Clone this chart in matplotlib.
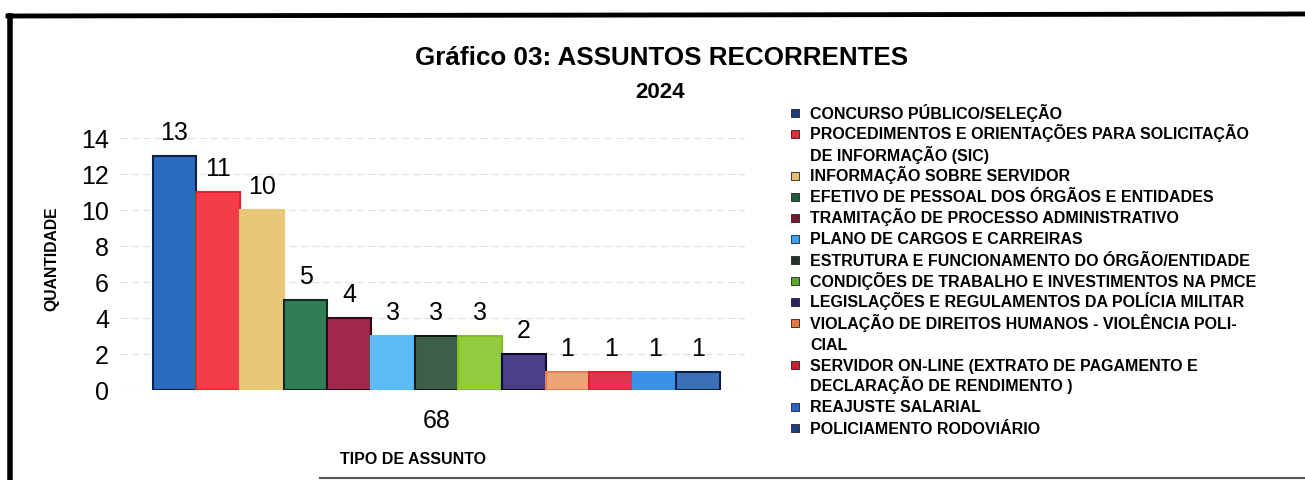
import matplotlib.pyplot as plt
from matplotlib.lines import Line2D
from matplotlib.patches import Rectangle

plt.rcParams['font.family'] = ['Liberation Sans', 'DejaVu Sans']

# Data
assuntos = [
    "CONCURSO PÚBLICO/SELEÇÃO",
    "PROCEDIMENTOS E ORIENTAÇÕES PARA SOLICITAÇÃO\nDE INFORMAÇÃO (SIC)",
    "INFORMAÇÃO SOBRE SERVIDOR",
    "EFETIVO DE PESSOAL DOS ÓRGÃOS E ENTIDADES",
    "TRAMITAÇÃO DE PROCESSO ADMINISTRATIVO",
    "PLANO DE CARGOS E CARREIRAS",
    "ESTRUTURA E FUNCIONAMENTO DO ÓRGÃO/ENTIDADE",
    "CONDIÇÕES DE TRABALHO E INVESTIMENTOS NA PMCE",
    "LEGISLAÇÕES E REGULAMENTOS DA POLÍCIA MILITAR",
    "VIOLAÇÃO DE DIREITOS HUMANOS - VIOLÊNCIA POLI-\nCIAL",
    "SERVIDOR ON-LINE (EXTRATO DE PAGAMENTO E\nDECLARAÇÃO DE RENDIMENTO )",
    "REAJUSTE SALARIAL",
    "POLICIAMENTO RODOVIÁRIO",
]
quantidade = [13, 11, 10, 5, 4, 3, 3, 3, 2, 1, 1, 1, 1]
categoria = "68"
y_ticks = [0, 2, 4, 6, 8, 10, 12, 14]

cores = ["#2c6cc0", "#f43d48", "#e8c878", "#2f7e56", "#a0284c", "#5cbcf6", "#3d5f4a",
         "#90cc3e", "#4b4088", "#eca478", "#e03452", "#3b90e8", "#3a70b8"]
bordas = ["#0d1f4a", "#e8202c", "#e8c878", "#102a1c", "#2a0a14", "#5cbcf6", "#0f1a12",
          "#7fc020", "#0c0c30", "#e08050", "#e02030", "#3b90e8", "#0d1f4a"]
cores_legenda = ["#1c3c80", "#e82a34", "#e8c070", "#1f5a3a", "#7a1a30", "#3aa0f0", "#1f3526",
                 "#5aa830", "#2a2460", "#e07a40", "#c8202c", "#2a60c8", "#1e4080"]

W, H = 1305, 480
fig = plt.figure(figsize=(W / 100, H / 100), dpi=100)
ax = fig.add_axes([120 / W, 1 - 390 / H, 625 / W, 252 / H])

x = list(range(len(quantidade)))
ax.bar(x, quantidade, width=1.0, color=cores, edgecolor=bordas, linewidth=1.5, zorder=3)

for xi, q in zip(x, quantidade):
    ax.text(xi, q + 0.6, str(q), ha='center', va='bottom', fontsize=18, clip_on=False)

ax.set_xlim(-1.25, 13.07)
ax.set_ylim(0, 14)
ax.set_yticks(y_ticks)
ax.set_yticklabels([str(t) for t in y_ticks], fontsize=18)
ax.set_xticks([6])
ax.set_xticklabels([categoria], fontsize=18)
ax.tick_params(axis='both', length=0)
ax.tick_params(axis='y', pad=8)
ax.tick_params(axis='x', pad=14)
ax.yaxis.grid(True, color='#e2e2e2', linewidth=0.9, linestyle=(0, (6, 3)))
ax.set_axisbelow(True)
for s in ax.spines.values():
    s.set_visible(False)

# Titles and axis labels
fig.text(662 / W, 1 - 58 / H, "Gráfico 03: ASSUNTOS RECORRENTES", ha='center', va='center',
         fontsize=18.7, fontweight='bold')
fig.text(660 / W, 1 - 93 / H, "2024", ha='center', va='center', fontsize=16, fontweight='bold')
fig.text(52 / W, 1 - 259 / H, "QUANTIDADE", ha='center', va='center', rotation=90,
         fontsize=11.3, fontweight='bold')
fig.text(413 / W, 1 - 460 / H, "TIPO DE ASSUNTO", ha='center', va='center',
         fontsize=11.5, fontweight='bold')

# Legend (square marker aligned with first line of each entry)
y_linha = 113
passo = 21
for rotulo, c in zip(assuntos, cores_legenda):
    fig.add_artist(Rectangle((791 / W, 1 - (y_linha + 4) / H), 8 / W, 8 / H, transform=fig.transFigure,
                             facecolor=c, edgecolor='#202020', linewidth=0.6))
    for k, linha in enumerate(rotulo.split("\n")):
        fig.text(810 / W, 1 - (y_linha + 5.5) / H, linha, ha='left', va='baseline',
                 fontsize=11.5, fontweight='bold')
        y_linha += passo

# Frame lines of the scanned page
fig.add_artist(Line2D([8 / W, 1.0], [1 - 16 / H, 1 - 14 / H], color='black', linewidth=3.5,
                      transform=fig.transFigure))
fig.add_artist(Line2D([10 / W, 10 / W], [1 - 16 / H, 0.0], color='black', linewidth=4,
                      transform=fig.transFigure))
fig.add_artist(Line2D([320 / W, 1.0], [1 - 478 / H, 1 - 478 / H], color='#555555', linewidth=1.5,
                      transform=fig.transFigure))

fig.savefig("out.png", dpi=100)
